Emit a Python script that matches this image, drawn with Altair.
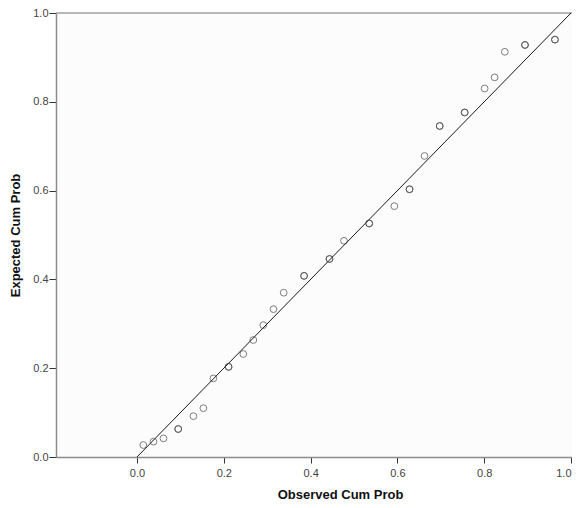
import altair as alt
import pandas as pd

# Observed vs expected cumulative probabilities
observed = [0.0145, 0.038, 0.061, 0.095, 0.130, 0.153, 0.176, 0.211, 0.245, 0.268,
            0.291, 0.3145, 0.338, 0.385, 0.4435, 0.477, 0.535, 0.593, 0.628, 0.6625,
            0.6975, 0.755, 0.801, 0.824, 0.8475, 0.894, 0.963]
expected = [0.027, 0.0345, 0.042, 0.063, 0.092, 0.110, 0.177, 0.203, 0.232, 0.2635,
            0.297, 0.333, 0.370, 0.408, 0.446, 0.487, 0.526, 0.565, 0.603, 0.678,
            0.7455, 0.776, 0.830, 0.855, 0.9126, 0.928, 0.940]
# number of coinciding cases at each point (bolder circles)
cases = [1, 1, 1, 2, 1, 1, 1, 2, 1, 1,
         1, 1, 1, 2, 2, 1, 2, 1, 2, 1,
         2, 2, 1, 1, 1, 2, 2]

ref_x = [0.0, 1.0]
ref_y = [0.0, 1.0]

x_ticks = [0.0, 0.2, 0.4, 0.6, 0.8, 1.0]
y_ticks = [0.0, 0.2, 0.4, 0.6, 0.8, 1.0]

rows = []
for o, e, c in zip(observed, expected, cases):
    for _ in range(c):
        rows.append({"obs": o, "exp": e})
pts = pd.DataFrame(rows)
ref = pd.DataFrame({"obs": ref_x, "exp": ref_y})

FONT = "Liberation Sans"

xscale = alt.Scale(domain=[-0.1866, 1.0023], nice=False, zero=False)
yscale = alt.Scale(domain=[0, 1], nice=False, zero=False)

xaxis = alt.Axis(values=x_ticks, format=".1f", title="Observed Cum Prob",
                 grid=False, domainColor="#8c8c8c", domainWidth=1.5,
                 tickColor="#333333", tickSize=6, labelColor="#444444",
                 labelFont=FONT, labelFontSize=11, labelPadding=4,
                 titleFont=FONT, titleFontSize=13, titleFontWeight="bold",
                 titleColor="#111111", titleX=284, titlePadding=10)
yaxis = alt.Axis(values=y_ticks, format=".1f", title="Expected Cum Prob",
                 grid=False, domainColor="#8c8c8c", domainWidth=1.5,
                 tickColor="#333333", tickSize=7, labelColor="#444444",
                 labelFont=FONT, labelFontSize=11, labelPadding=1,
                 titleFont=FONT, titleFontSize=13, titleFontWeight="bold",
                 titleColor="#111111", titlePadding=10)

top = alt.Chart(pd.DataFrame({"exp": [1.0]})).mark_rule(
    color="#a0a0a0", strokeWidth=1.5).encode(y=alt.Y("exp:Q", scale=yscale, axis=yaxis))

line = alt.Chart(ref).mark_line(color="#1a1a1a", strokeWidth=1).encode(
    x=alt.X("obs:Q", scale=xscale, axis=xaxis),
    y=alt.Y("exp:Q", scale=yscale, axis=yaxis),
)

points = alt.Chart(pts).mark_point(
    shape="circle", filled=False, size=46, stroke="#3a3a3a",
    strokeWidth=1, opacity=0.65
).encode(
    x=alt.X("obs:Q", scale=xscale, axis=xaxis),
    y=alt.Y("exp:Q", scale=yscale, axis=yaxis),
)

chart = alt.layer(top, line, points).properties(
    width=516, height=444,
    autosize=alt.AutoSizeParams(type="none"),
    padding={"left": 48, "top": 5, "right": 0, "bottom": 43},
    background="#ffffff",
).configure_view(stroke=None, fill="#fcfcfc")

chart.save("out.html", embed_options={"renderer": "svg", "actions": False})
